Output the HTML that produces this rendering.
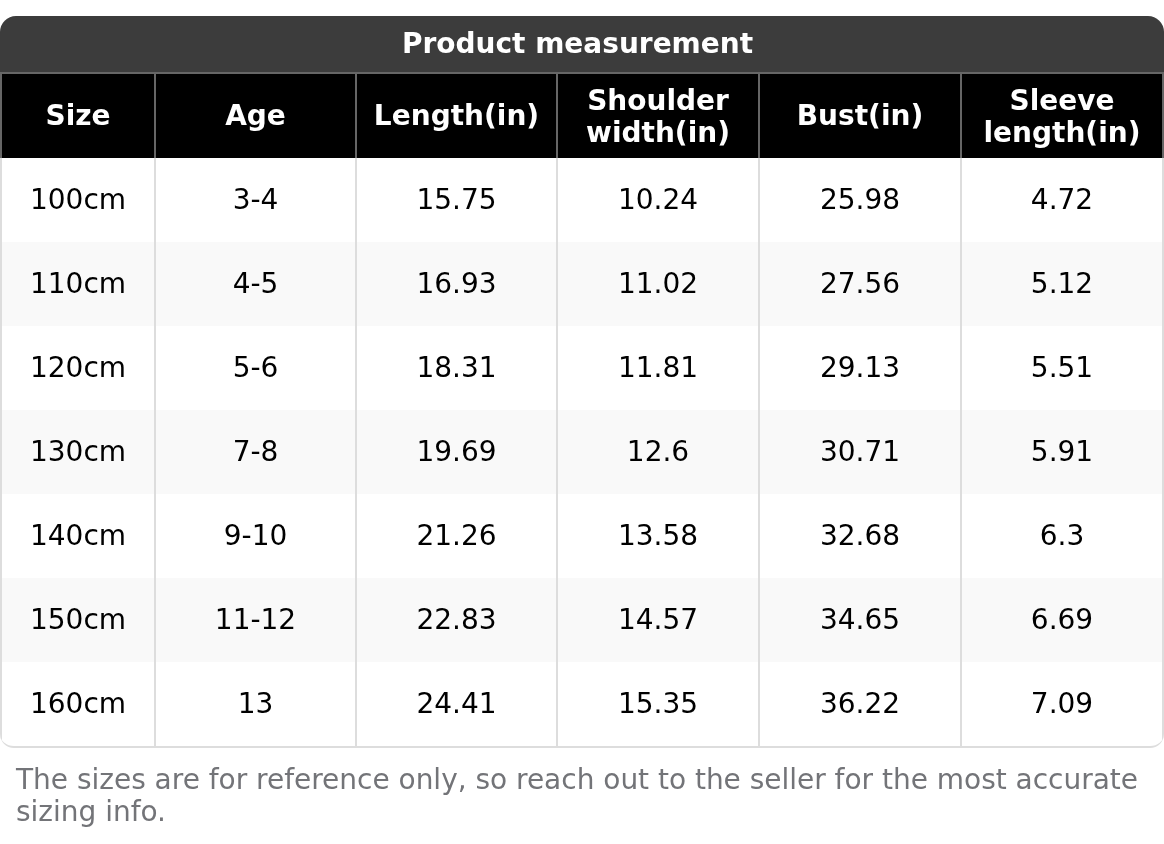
<!DOCTYPE html>
<html>
<head>
<meta charset="utf-8">
<title>Product measurement</title>
<style>
html,body{margin:0;padding:0;background:#fff;}
body{width:1164px;height:844px;overflow:hidden;font-family:"DejaVu Sans","Liberation Sans",sans-serif;color:#000;}
.wrap{position:absolute;left:0;top:16px;width:1164px;}
.title{height:56px;line-height:56px;background:#3c3c3c;color:#fff;font-weight:bold;font-size:28px;text-align:center;border-radius:16px 16px 0 0;box-sizing:border-box;padding-right:9px;}
.grid{display:grid;grid-template-columns:156px 201px 201px 202px 202px 202px;}
.head{background:#000;color:#fff;font-weight:bold;font-size:28px;line-height:32px;border-top:2px solid #666;}
.head>div{height:84px;box-sizing:border-box;border-right:2px solid #666;display:flex;align-items:center;justify-content:center;text-align:center;}
.head>div:first-child{border-left:2px solid #666;}
.head>div.two{padding-top:2px;}
.body{border-bottom:2px solid #ddd;border-radius:0 0 14px 14px;overflow:hidden;position:relative;}
.row{font-size:28px;}
.row>div{height:84px;line-height:84px;box-sizing:border-box;border-right:2px solid #ddd;text-align:center;}
.row>div:first-child{border-left:2px solid #ddd;}
.row.alt{background:#f9f9f9;}
.note{position:absolute;left:16px;top:764px;width:1140px;font-size:28px;line-height:32px;color:#737478;letter-spacing:-0.015px;}
</style>
</head>
<body>
<div class="wrap">
  <div class="title">Product measurement</div>
  <div class="grid head">
    <div>Size</div><div>Age</div><div>Length(in)</div><div class="two">Shoulder<br>width(in)</div><div>Bust(in)</div><div class="two">Sleeve<br>length(in)</div>
  </div>
  <div class="body">
    <div class="grid row"><div>100cm</div><div>3-4</div><div>15.75</div><div>10.24</div><div>25.98</div><div>4.72</div></div>
    <div class="grid row alt"><div>110cm</div><div>4-5</div><div>16.93</div><div>11.02</div><div>27.56</div><div>5.12</div></div>
    <div class="grid row"><div>120cm</div><div>5-6</div><div>18.31</div><div>11.81</div><div>29.13</div><div>5.51</div></div>
    <div class="grid row alt"><div>130cm</div><div>7-8</div><div>19.69</div><div>12.6</div><div>30.71</div><div>5.91</div></div>
    <div class="grid row"><div>140cm</div><div>9-10</div><div>21.26</div><div>13.58</div><div>32.68</div><div>6.3</div></div>
    <div class="grid row alt"><div>150cm</div><div>11-12</div><div>22.83</div><div>14.57</div><div>34.65</div><div>6.69</div></div>
    <div class="grid row"><div>160cm</div><div>13</div><div>24.41</div><div>15.35</div><div>36.22</div><div>7.09</div></div>
  </div>
</div>
<div class="note">The sizes are for reference only, so reach out to the seller for the most accurate sizing info.</div>
</body>
</html>
